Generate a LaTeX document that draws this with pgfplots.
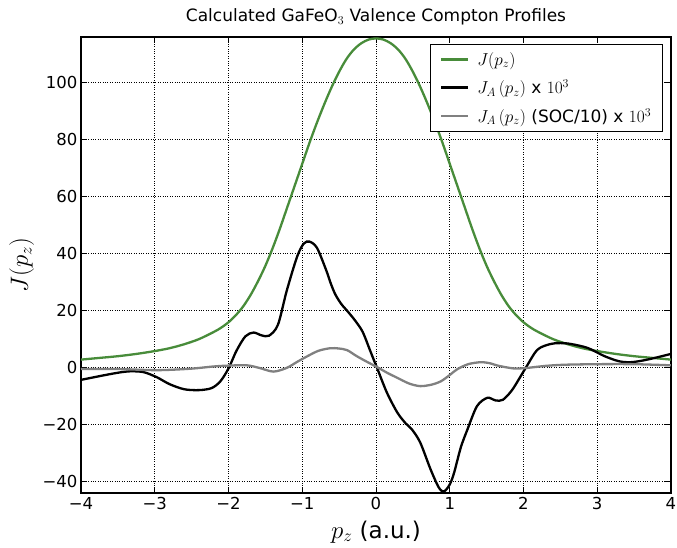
\documentclass[border=0pt]{standalone}
\usepackage{pgfplots}
\pgfplotsset{compat=1.18}
\usepackage{fontspec}
\setmainfont{DejaVu Sans}
\definecolor{jgreen}{RGB}{72,140,58}
\definecolor{jgray}{RGB}{128,128,128}
\begin{document}
\begin{tikzpicture}
\useasboundingbox (0,0) rectangle (677pt,547pt);
\begin{axis}[
  at={(81pt,54pt)}, anchor=south west,
  scale only axis, width=590pt, height=456pt,
  xmin=-4, xmax=4, ymin=-44, ymax=116,
  xtick={-4,-3,-2,-1,0,1,2,3,4},
  xticklabels={−4,−3,−2,−1,0,1,2,3,4},
  ytick={-40,-20,0,20,40,60,80,100},
  yticklabels={−40,−20,0,20,40,60,80,100},
  tick align=inside, tick pos=both, major tick length=6pt,
  grid=major, grid style={black, dotted, line width=0.7pt},
  axis line style={line width=1.1pt},
  every tick/.style={black, line width=0.8pt},
  ticklabel style={font=\fontsize{16.5}{19}\selectfont},
  xticklabel style={yshift=-1pt},
  title={Calculated GaFeO$_3$ Valence Compton Profiles},
  title style={at={(axis description cs:0.5,1)}, anchor=base, yshift=9pt, font=\fontsize{17}{20}\selectfont},
  xlabel={$p_z$ (a.u.)},
  xlabel style={at={(axis description cs:0.5,0)}, anchor=base, yshift=-45pt, font=\fontsize{23}{27}\selectfont},
  ylabel={$J(p_z)$},
  ylabel style={at={(axis description cs:-0.09,0.5)}, anchor=base, font=\fontsize{24}{28}\selectfont},
  legend style={at={(axis description cs:0.986,0.985)}, anchor=north east, draw=black, line width=1.1pt,
    font=\fontsize{17}{20}\selectfont, row sep=9pt, column sep=6pt, inner xsep=9pt, inner ysep=6pt},
  legend cell align=left,
  legend image code/.code={\draw[#1, line width=2.4pt] (0pt,0pt) -- (27pt,0pt);},
]
\addplot[jgreen, line width=2.3pt, smooth] coordinates {
(-4.0,2.8) (-3.75,3.4) (-3.5,4.0) (-3.25,4.8) (-3.0,5.8) (-2.8,6.8) (-2.6,8.2) (-2.4,10.0)
(-2.2,12.5) (-2.1,14.0) (-2.0,15.9) (-1.9,18.4) (-1.8,21.5) (-1.7,25.5) (-1.6,30.3)
(-1.5,35.7) (-1.4,42.0) (-1.3,49.0) (-1.2,56.5) (-1.1,64.0) (-1.0,71.5) (-0.9,79.0)
(-0.8,86.0) (-0.7,92.5) (-0.6,98.5) (-0.5,103.8) (-0.4,108.3) (-0.3,111.6) (-0.2,113.8)
(-0.1,115.1) (0.0,115.5)
(0.1,115.1) (0.2,113.8) (0.3,111.6) (0.4,108.3) (0.5,103.8) (0.6,98.5) (0.7,92.5)
(0.8,86.0) (0.9,79.0) (1.0,71.5) (1.1,64.0) (1.2,56.5) (1.3,49.0) (1.4,42.0) (1.5,35.7)
(1.6,30.3) (1.7,25.5) (1.8,21.5) (1.9,18.4) (2.0,15.9) (2.1,14.0) (2.2,12.5) (2.4,10.0)
(2.6,8.2) (2.8,6.8) (3.0,5.8) (3.25,4.8) (3.5,4.0) (3.75,3.4) (4.0,2.8)
};
\addlegendentry{$J(p_z)$}
\addplot[black, line width=2.3pt, smooth] coordinates {
(-4.0,-4.3) (-3.75,-3.0) (-3.5,-1.8) (-3.33,-1.3) (-3.15,-1.6) (-2.97,-3.4) (-2.8,-5.8)
(-2.6,-7.6) (-2.4,-7.9) (-2.23,-7.2) (-2.11,-4.8) (-2.0,-0.3) (-1.89,6.0) (-1.77,11.0)
(-1.66,12.3) (-1.55,11.3) (-1.45,11.2) (-1.33,15.0) (-1.21,27.0) (-1.07,38.9) (-0.98,43.5)
(-0.90,44.2) (-0.80,42.0) (-0.68,34.5) (-0.61,29.3) (-0.55,25.6) (-0.47,22.3) (-0.38,19.6)
(-0.28,16.4) (-0.18,12.5) (-0.08,6.0) (0.02,-0.5) (0.15,-8.9) (0.29,-15.8) (0.40,-19.5) (0.49,-21.8)
(0.60,-26.3) (0.74,-35.7) (0.85,-42.0) (0.92,-43.5) (1.0,-41.0) (1.06,-36.8) (1.15,-28.0)
(1.24,-21.7) (1.37,-13.5) (1.51,-10.6) (1.62,-11.5) (1.72,-11.3) (1.85,-7.7) (2.03,-0.1)
(2.19,6.3) (2.37,8.3) (2.5,8.6) (2.64,8.3) (2.87,6.9) (3.10,4.0) (3.30,2.2) (3.45,1.9) (3.6,2.4)
(3.78,3.4) (4.0,4.8)
};
\addlegendentry{$J_A\,(p_z)$ x $10^3$}
\addplot[jgray, line width=2.3pt, smooth] coordinates {
(-4.0,-0.5) (-3.5,-0.5) (-2.97,-0.9) (-2.52,-0.4) (-2.2,0.4) (-2.0,0.7) (-1.75,0.8)
(-1.57,-0.2) (-1.39,-1.4) (-1.21,-0.1) (-1.07,2.0) (-0.93,4.0) (-0.78,5.9) (-0.62,6.8)
(-0.50,6.7) (-0.39,6.1) (-0.26,4.0) (-0.12,2.0) (0.02,0.1) (0.15,-1.8) (0.29,-3.6)
(0.45,-5.6) (0.60,-6.5) (0.75,-6.0) (0.88,-4.8) (1.0,-2.6) (1.10,-0.6) (1.25,1.2)
(1.42,1.9) (1.55,1.5) (1.65,0.7) (1.87,-0.3) (2.05,-0.1) (2.3,0.6) (2.55,1.0) (3.0,1.2)
(3.5,1.2) (4.0,0.8)
};
\addlegendentry{$J_A\,(p_z)$ (SOC/10) x $10^3$}
\end{axis}
\end{tikzpicture}
\end{document}
